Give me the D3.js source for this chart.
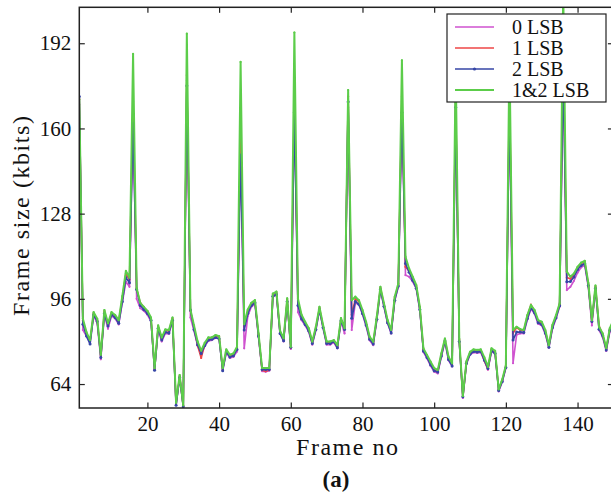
<!DOCTYPE html>
<html><head><meta charset="utf-8">
<script src="https://cdn.jsdelivr.net/npm/d3@7/dist/d3.min.js"></script>
<style>
html,body{margin:0;padding:0;background:#fff;}
svg{display:block;}
</style></head>
<body>
<svg id="chart" width="611" height="500"></svg>
<script>
// ---------- data ----------
const frames = d3.range(1, 151);
const xTicks = [20, 40, 60, 80, 100, 120, 140];
const yTicks = [64, 96, 128, 160, 192];
const seriesNames = ["0 LSB", "1 LSB", "2 LSB", "1&2 LSB"];

const lsb0 = [169,84.3,82,79.5,89.8,86.8,73.3,90,84.8,89.6,88.6,86.4,94.5,102.5,100.5,165,96,92.5,91.5,90,
87.5,69.3,84.5,80,83,82.8,87.6,56.2,66.6,55.6,178,89,84,78.4,75,78.2,80.2,80.5,81.3,81,
69.2,75.8,73.8,74.2,76.2,155,77.4,89.5,93,94,81.5,68.8,68.6,69,96.8,97.5,82.8,80,94.8,77.2,
170,91,88,86,83.6,78.8,84.2,91.8,85,78.8,78.8,79.6,77.4,87.5,83,168,84.3,94.5,93.8,90.2,
85.8,80.4,78.6,88,99.3,93,86.8,83,95.3,100.5,170,104.9,104.3,102.5,99.8,91.6,76,73.6,70.8,68.6,
68,74.2,79.8,72.9,70.6,170,79.6,58.8,71.4,75,75.9,75.7,75.9,72.7,69.4,76.2,75.3,61.2,64.8,70,
172,71.8,82.5,83,83,88.2,92.2,90.4,86.6,86,82.8,77.6,84.8,88.6,93,185,99.3,100.5,102.8,105.8,
107.8,108.6,100.4,86,99.6,84.2,81.6,76.4,83.6,86.6];

const lsb1 = [171,87.8,83,80,90.6,88,74.5,91.4,86.3,90.6,89.6,87.6,96.2,105.5,103.2,170,99.8,94.5,92.8,91.2,
88.6,69.6,85.6,81,84.2,83.8,88.6,56.6,67,55.8,180,91.5,85.4,78.5,73.8,78.8,81.2,81.4,82,81.8,
69.6,76.6,74.6,75.1,77.6,160,85.6,91.5,94,95,82.5,69.2,68.8,69.3,97.6,98.3,83.6,80.8,95.8,77.6,
175,95,89.5,87,84.6,79.6,85.1,92.6,85.8,79.6,79.6,80.2,78.2,88.4,84.6,172,90,96,95,91.3,
87,81.3,79.4,88.9,100.1,93.9,87.6,83.9,96.3,101.4,172,108,106.5,103.8,100.8,92.6,77,74.5,72,69.3,
68.6,75.1,80.7,73.9,71.4,172,80.6,59.3,72.1,75.7,76.6,76.4,76.6,72.8,69.6,77,76,61.8,65.4,70.6,
175,83,85.2,84.3,84,89.6,93.8,91.4,87.6,87,83.9,78.2,85.8,89.5,93.9,190,104,103.5,105,107.6,
109.2,110,101.6,87.5,100.6,85.9,82.6,77.1,84.6,87.6];

const lsb2 = [172,86.5,82,79,90,87.5,74,90.5,85.8,90,89,86.8,95,104,102,162,99.5,93.5,92,90.5,
88,69.2,85,80.5,83.5,83.2,88,56,66.5,55.5,176,91.8,84.5,78.8,75.5,78.5,80.5,80.8,81.5,81,
69,76,74.2,74.6,77,150,84.3,90.5,93.5,94.5,82,69.5,69.5,69.5,97,97.7,83,80.3,95,77.8,
166,93.5,88.5,86.4,84,79.2,84.5,92,85.2,79.2,79.2,80,77.6,87.8,84.5,170,88.7,95,94,90.5,
86.2,80.8,79,88.3,99.5,93.2,87,83.2,95.5,100.8,166,109.3,106,103,100,92,76.4,74,71.2,69,
68.5,74.5,80.2,73.2,70.8,168,80,59.2,71.8,75.2,76.2,76,76.2,73,69.8,76.5,75.5,61.6,65,70.2,
170,80.5,83.5,83.5,83.4,88.6,92.6,90.8,87,86.4,83.2,77.8,85.2,88.9,93.4,182,102.4,102.5,104.2,107,
108.5,109.2,101,87.5,100,84.6,82.2,76.8,84.2,87.2];

const lsb12 = [171,88.5,83.5,80.5,91,88.5,75,91.8,86.8,91,89.9,88,97,106.5,104,188,100,94.5,93,91.5,
89,70,86,81.5,84.5,84.3,89,57,67.4,56,195.6,92,86,80,76.5,79.5,81.5,81.5,82.4,82,
70,77,75,75.5,78,185,86.5,92,94.5,95.5,83,70,70,70,98,98.7,84,81.2,96.2,78,
196,96,90,87.4,85,80,85.5,93,86.2,80,80,80.5,78.6,88.8,85,174.4,95.5,96.8,95.5,91.8,
87.4,81.8,79.9,89.3,100.5,94.3,88,84.3,96.8,101.8,185.6,111.8,107.4,104.3,101.2,93,77.4,74.9,72.4,70,
69.3,75.5,81.1,74.3,71.8,184,81,59.5,72.5,76.1,77,76.8,77,74,70.5,77.4,76.5,62,65.8,71,
188,84.3,85.5,84.6,84.3,89.9,93.7,91.8,88,87.4,84.3,78.6,86.2,89.9,94.3,212,106.2,104.3,105.5,108,
109.6,110.3,102,88,101,85.5,83,77.5,85,88];

const colors = ["#cf52cf", "#ee4646", "#3646a6", "#5ccd4a"];
const FONT = "'Liberation Serif'";

// ---------- layout ----------
const svg = d3.select("#chart");
const L = 79.3, R = 613.4, T = 7.3, B = 408;
const x = d3.scaleLinear().domain([1, 150]).range([L, R]);
const y = d3.scaleLinear().domain([55, 205.5]).range([B, T]);

svg.append("defs").append("clipPath").attr("id", "clip")
  .append("rect").attr("x", L).attr("y", T).attr("width", R - L).attr("height", B - T);

const allSeries = [lsb0, lsb1, lsb2, lsb12];
const line = d3.line().x((d, i) => x(frames[i])).y(d => y(d));

const plot = svg.append("g").attr("clip-path", "url(#clip)");
allSeries.forEach((s, k) => {
  plot.append("path").datum(s)
    .attr("d", line)
    .attr("fill", "none")
    .attr("stroke", colors[k])
    .attr("stroke-width", k === 3 ? 2 : 1.6)
    .attr("stroke-linejoin", "round");
  plot.append("g").selectAll("circle").data(s).join("circle")
    .attr("cx", (d, i) => x(frames[i]))
    .attr("cy", d => y(d))
    .attr("r", k === 2 ? 1.5 : 1.1)
    .attr("fill", colors[k]);
});

// ---------- axes (box with inward ticks) ----------
const tickLen = 5.5;
const axB = d3.axisBottom(x).tickValues(xTicks).tickSize(-tickLen).tickPadding(8).tickFormat(d3.format("d"));
const axT = d3.axisTop(x).tickValues(xTicks).tickSize(-tickLen).tickFormat("");
const axL = d3.axisLeft(y).tickValues(yTicks).tickSize(-tickLen).tickPadding(8).tickFormat(d3.format("d"));
const axR = d3.axisRight(y).tickValues(yTicks).tickSize(-tickLen).tickFormat("");

function styleAxis(g) {
  g.attr("font-family", FONT).attr("font-size", 21);
  g.select(".domain").attr("stroke", "none");
  g.selectAll(".tick line").attr("stroke", "#222").attr("stroke-width", 1.2);
  g.selectAll(".tick text").attr("font-family", FONT).attr("font-size", 21).attr("fill", "#111");
}
svg.append("g").attr("transform", `translate(0,${B})`).call(axB).call(styleAxis);
svg.append("g").attr("transform", `translate(0,${T})`).call(axT).call(styleAxis);
svg.append("g").attr("transform", `translate(${L},0)`).call(axL).call(styleAxis);
svg.append("g").attr("transform", `translate(${R},0)`).call(axR).call(styleAxis);

svg.append("rect").attr("x", L).attr("y", T).attr("width", R - L).attr("height", B - T)
  .attr("fill", "none").attr("stroke", "#222").attr("stroke-width", 1.5);

// ---------- labels ----------
svg.append("text").attr("transform", "translate(29,216) rotate(-90)")
  .attr("text-anchor", "middle").attr("font-family", FONT).attr("font-size", 24).attr("fill", "#111")
  .attr("textLength", 200).attr("lengthAdjust", "spacing")
  .text("Frame size (kbits)");
svg.append("text").attr("x", 347).attr("y", 455)
  .attr("text-anchor", "middle").attr("font-family", FONT).attr("font-size", 24).attr("fill", "#111")
  .attr("textLength", 102).attr("lengthAdjust", "spacing")
  .text("Frame no");
svg.append("text").attr("x", 336).attr("y", 487)
  .attr("text-anchor", "middle").attr("font-family", FONT).attr("font-size", 23).attr("font-weight", "bold").attr("fill", "#111")
  .text("(a)");

// ---------- legend ----------
const lg = svg.append("g");
lg.append("rect").attr("x", 447).attr("y", 14).attr("width", 159).attr("height", 88)
  .attr("fill", "#fff").attr("stroke", "#222").attr("stroke-width", 1.2);
const legY = [27, 48, 69, 90];
seriesNames.forEach((name, k) => {
  lg.append("line").attr("x1", 455).attr("x2", 494).attr("y1", legY[k]).attr("y2", legY[k])
    .attr("stroke", colors[k]).attr("stroke-width", k === 3 ? 2 : 1.6);
  if (k === 2) lg.append("circle").attr("cx", 474.5).attr("cy", legY[k]).attr("r", 1.6).attr("fill", colors[k]);
  lg.append("text").attr("x", 512).attr("y", legY[k] + 6.5).attr("font-family", FONT).attr("font-size", 20).attr("fill", "#111").text(name);
});
</script>
</body></html>
